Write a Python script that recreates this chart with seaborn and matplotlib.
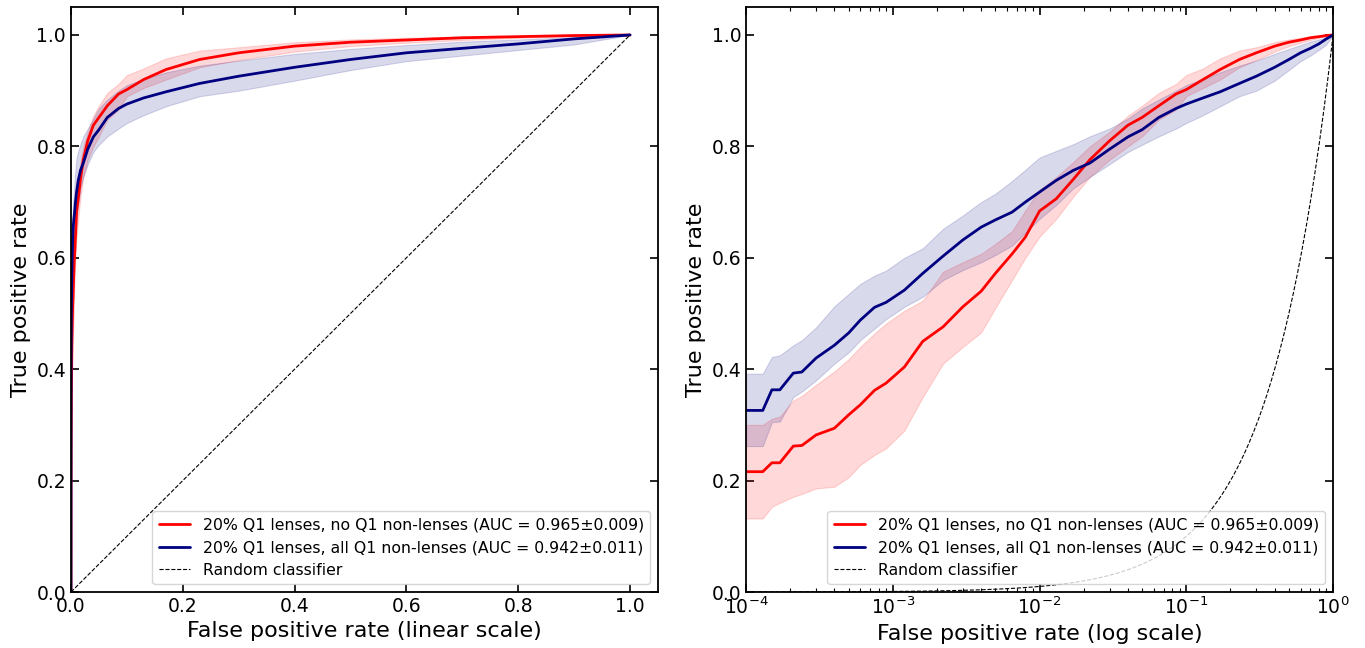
import numpy as np
import pandas as pd
import seaborn as sns
import matplotlib.pyplot as plt

# false positive rate grid (shared by both models)
fpr = [0.0, 1.0e-4, 1.3e-4, 1.5e-4, 1.7e-4, 2.1e-4, 2.4e-4, 3.0e-4, 4.0e-4, 5.0e-4,
       6.0e-4, 7.5e-4, 9.0e-4, 1.2e-3, 1.6e-3, 2.2e-3, 3.0e-3, 4.0e-3, 5.0e-3, 6.5e-3,
       8.0e-3, 1.0e-2, 1.3e-2, 1.7e-2, 2.2e-2, 3.0e-2, 4.0e-2, 5.0e-2, 6.5e-2, 8.5e-2,
       0.10, 0.13, 0.17, 0.23, 0.30, 0.40, 0.50, 0.60, 0.70, 0.80, 0.90, 1.0]

# 20% Q1 lenses, no Q1 non-lenses
tpr_no = [0.0, 0.216, 0.216, 0.232, 0.232, 0.262, 0.263, 0.282, 0.294, 0.318,
          0.336, 0.362, 0.375, 0.404, 0.450, 0.476, 0.512, 0.540, 0.572, 0.607,
          0.637, 0.684, 0.706, 0.741, 0.776, 0.810, 0.838, 0.852, 0.873, 0.894,
          0.902, 0.920, 0.938, 0.956, 0.968, 0.980, 0.987, 0.991, 0.995, 0.997, 0.999, 1.0]
hi_no = [0.0, 0.300, 0.300, 0.311, 0.315, 0.344, 0.352, 0.372, 0.396, 0.418,
         0.440, 0.464, 0.482, 0.505, 0.523, 0.575, 0.592, 0.607, 0.625, 0.648,
         0.685, 0.722, 0.745, 0.772, 0.800, 0.826, 0.855, 0.873, 0.896, 0.912,
         0.928, 0.940, 0.958, 0.972, 0.978, 0.987, 0.992, 0.995, 0.997, 0.998, 0.999, 1.0]
lo_no = [0.0, 0.132, 0.132, 0.153, 0.160, 0.171, 0.176, 0.186, 0.189, 0.206,
         0.228, 0.246, 0.258, 0.290, 0.350, 0.410, 0.440, 0.466, 0.510, 0.560,
         0.600, 0.638, 0.670, 0.710, 0.745, 0.776, 0.800, 0.818, 0.848, 0.866,
         0.890, 0.905, 0.920, 0.942, 0.955, 0.970, 0.980, 0.986, 0.991, 0.995, 0.998, 1.0]

# 20% Q1 lenses, all Q1 non-lenses
tpr_all = [0.0, 0.326, 0.326, 0.363, 0.363, 0.393, 0.395, 0.420, 0.443, 0.465,
           0.488, 0.511, 0.520, 0.542, 0.572, 0.603, 0.632, 0.655, 0.668, 0.682,
           0.700, 0.718, 0.739, 0.757, 0.770, 0.795, 0.817, 0.830, 0.852, 0.868,
           0.876, 0.887, 0.898, 0.913, 0.926, 0.942, 0.956, 0.968, 0.976, 0.984, 0.993, 1.0]
hi_all = [0.0, 0.392, 0.392, 0.422, 0.425, 0.443, 0.452, 0.475, 0.513, 0.535,
          0.553, 0.568, 0.577, 0.600, 0.617, 0.652, 0.676, 0.700, 0.715, 0.738,
          0.758, 0.780, 0.792, 0.804, 0.818, 0.832, 0.850, 0.868, 0.884, 0.900,
          0.910, 0.921, 0.933, 0.945, 0.954, 0.966, 0.975, 0.982, 0.988, 0.992, 0.996, 1.0]
lo_all = [0.0, 0.262, 0.262, 0.305, 0.306, 0.350, 0.360, 0.380, 0.410, 0.430,
          0.452, 0.473, 0.490, 0.512, 0.530, 0.560, 0.578, 0.592, 0.605, 0.622,
          0.645, 0.670, 0.695, 0.725, 0.745, 0.768, 0.790, 0.803, 0.818, 0.832,
          0.842, 0.856, 0.872, 0.890, 0.900, 0.918, 0.937, 0.953, 0.963, 0.973, 0.983, 1.0]

labels = ["20% Q1 lenses, no Q1 non-lenses (AUC = 0.965\u00b10.009)",
          "20% Q1 lenses, all Q1 non-lenses (AUC = 0.942\u00b10.011)"]
colors = ["red", "navy"]

df = pd.concat([
    pd.DataFrame({"fpr": fpr, "tpr": tpr_no, "lo": lo_no, "hi": hi_no, "model": labels[0]}),
    pd.DataFrame({"fpr": fpr, "tpr": tpr_all, "lo": lo_all, "hi": hi_all, "model": labels[1]}),
])

sns.set_style("ticks")
plt.rcParams["font.family"] = ["DejaVu Sans"]
plt.rcParams.update({"text.color": "black", "axes.labelcolor": "black",
                     "xtick.color": "black", "ytick.color": "black"})

fig, axes = plt.subplots(1, 2, figsize=(13.65, 6.48), dpi=100)
fig.subplots_adjust(left=0.052, right=0.9766, bottom=0.0864, top=0.989, wspace=0.15)


def draw(ax, data):
    for lab, col in zip(labels, colors):
        d = data[data["model"] == lab]
        ax.fill_between(d["fpr"], d["lo"], d["hi"], color=col, alpha=0.15, linewidth=0.8)
    sns.lineplot(data=data, x="fpr", y="tpr", hue="model", palette=colors,
                 hue_order=labels, estimator=None, sort=True, linewidth=2, ax=ax)


# linear panel
ax = axes[0]
draw(ax, df)
ax.plot([0, 1], [0, 1], "k--", linewidth=0.8, label="Random classifier")
ax.set_xlim(0, 1.05)
ax.set_ylim(0, 1.05)
ax.set_xticks([0, 0.2, 0.4, 0.6, 0.8, 1.0])
ax.set_xlabel("False positive rate (linear scale)", fontsize=16)

# log panel
ax = axes[1]
draw(ax, df[df["fpr"] > 0])
diag = np.logspace(-4, 0, 400)
ax.plot(diag, diag, "k--", linewidth=0.8, label="Random classifier")
ax.set_xscale("log")
ax.set_xlim(1e-4, 1)
ax.set_ylim(0, 1.05)
ax.set_xlabel("False positive rate (log scale)", fontsize=16)

for ax in axes:
    ax.set_yticks([0, 0.2, 0.4, 0.6, 0.8, 1.0])
    ax.set_ylabel("True positive rate", fontsize=16)
    ax.tick_params(which="major", direction="in", top=True, right=True,
                   length=6, width=1.2, labelsize=13.5)
    ax.tick_params(which="minor", direction="in", top=True, right=True,
                   length=3, width=0.8)
    for sp in ax.spines.values():
        sp.set_linewidth(1.3)
        sp.set_color("black")
    ax.legend(loc="lower right", fontsize=11.3, frameon=True)

plt.savefig("out.png", dpi=100)
